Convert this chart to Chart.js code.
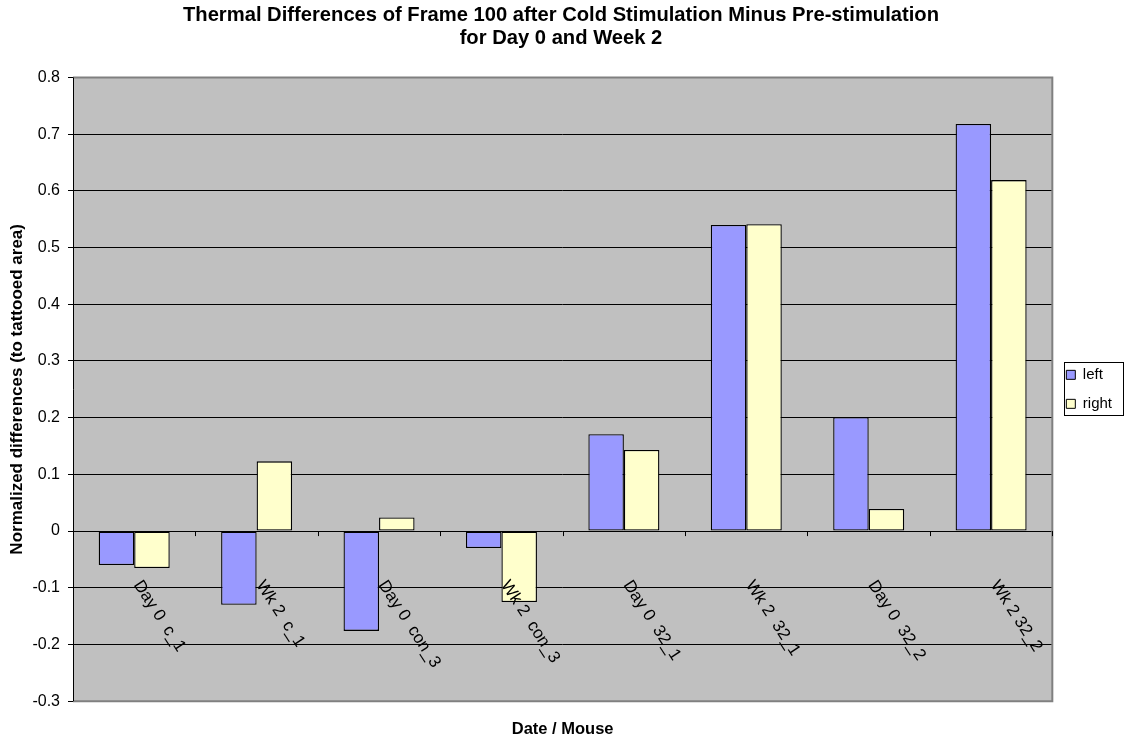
<!DOCTYPE html>
<html>
<head>
<meta charset="utf-8">
<script src="https://cdn.jsdelivr.net/npm/chart.js@4"></script>
<style>
  body { margin: 0; background: #fff; }
  #wrap { width: 1128px; height: 740px; position: relative; }
</style>
</head>
<body>
<div id="wrap"><canvas id="thermal-chart"></canvas></div>
<script>
const categories = ["Day 0  c_1", "Wk 2  c_1", "Day 0  con_3", "Wk 2  con_3", "Day 0  32_1", "Wk 2  32_1", "Day 0  32_2", "Wk 2 32_2"];
const leftValues = [-0.06, -0.13, -0.176, -0.03, 0.171, 0.54, 0.201, 0.718];
const rightValues = [-0.065, 0.123, 0.024, -0.125, 0.143, 0.541, 0.039, 0.619];
const yMin = -0.3;
const yMax = 0.8;
const yStep = 0.1;

const FONT = "'Liberation Sans', Arial, sans-serif";

// gray plot area, border, category ticks/labels and legend frame (Excel look)
const excelLook = {
  id: "excelLook",
  beforeDraw(chart) {
    const a = chart.chartArea, ctx = chart.ctx;
    ctx.save();
    ctx.fillStyle = "#C0C0C0";
    ctx.fillRect(a.left, a.top, a.right - a.left, a.bottom - a.top);
    ctx.restore();
  },
  afterDraw(chart) {
    const a = chart.chartArea, ctx = chart.ctx;
    const xs = chart.scales.x, ys = chart.scales.y;
    ctx.save();
    // border top / right / bottom
    ctx.strokeStyle = "#808080";
    ctx.lineWidth = 2;
    ctx.beginPath();
    ctx.moveTo(a.left, a.top);
    ctx.lineTo(a.right, a.top);
    ctx.lineTo(a.right, a.bottom);
    ctx.lineTo(a.left, a.bottom);
    ctx.stroke();
    // y axis line
    ctx.strokeStyle = "#000";
    ctx.lineWidth = 1;
    ctx.beginPath();
    ctx.moveTo(a.left + 0.5, a.top);
    ctx.lineTo(a.left + 0.5, a.bottom);
    ctx.stroke();
    // tick marks on the zero line between categories
    const zeroY = ys.getPixelForValue(0);
    const w = (a.right - a.left) / categories.length;
    ctx.beginPath();
    for (let i = 1; i <= categories.length; i++) {
      const x = Math.round(a.left + i * w) + 0.5;
      ctx.moveTo(x, zeroY);
      ctx.lineTo(x, zeroY + 5);
    }
    ctx.stroke();
    // rotated category labels
    ctx.fillStyle = "#000";
    ctx.font = "17px " + FONT;
    ctx.textAlign = "left";
    ctx.textBaseline = "middle";
    categories.forEach((c, i) => {
      const cx = xs.getPixelForValue(i);
      ctx.save();
      ctx.translate(cx + 3, zeroY + 51);
      ctx.rotate(57 * Math.PI / 180);
      ctx.fillText(c, 0, 0);
      ctx.restore();
    });
    // legend frame
    const lg = chart.legend;
    const boxes = lg.legendHitBoxes;
    if (boxes && boxes.length) {
      const first = boxes[0], last = boxes[boxes.length - 1];
      const l = Math.min(...boxes.map(h => h.left));
      const t = first.top + first.height / 2 - 13;
      const b = last.top + last.height / 2 + 11;
      ctx.strokeStyle = "#000";
      ctx.lineWidth = 1;
      ctx.strokeRect(Math.round(l - 2) + 0.5, Math.round(t) + 0.5, Math.round(lg.right + 1 - (l - 2)), Math.round(b - t));
    }
    ctx.restore();
  }
};

const config = {
  type: "bar",
  data: {
    labels: categories,
    datasets: [
      {
        label: "left",
        data: leftValues,
        backgroundColor: "#9999FF",
        borderColor: "#000",
        borderWidth: 1.3,
        borderSkipped: false,
      },
      {
        label: "right",
        data: rightValues,
        backgroundColor: "#FFFFCC",
        borderColor: "#000",
        borderWidth: 1.3,
        borderSkipped: false,
      },
    ],
  },
  options: {
    responsive: true,
    maintainAspectRatio: false,
    animation: false,
    layout: { padding: { top: 4, right: 6, bottom: 1, left: 0 } },
    datasets: { bar: { categoryPercentage: 0.58, barPercentage: 1.0 } },
    plugins: {
      title: {
        display: true,
        text: ["Thermal Differences of Frame 100 after Cold Stimulation Minus Pre-stimulation", "for Day 0 and Week 2"],
        color: "#000",
        font: { family: FONT, size: 20.2, weight: "bold", lineHeight: 1.15 },
        padding: { top: 0, bottom: 27 },
      },
      legend: {
        position: "right",
        fullSize: false,
        labels: {
          color: "#000",
          font: { family: FONT, size: 15 },
          boxWidth: 9,
          boxHeight: 9,
          padding: 14,
          generateLabels(chart) {
            return chart.data.datasets.map((d, i) => ({
              text: d.label,
              fillStyle: d.backgroundColor,
              strokeStyle: "#000",
              lineWidth: 1,
              datasetIndex: i,
              hidden: false,
            }));
          },
        },
      },
      tooltip: { enabled: false },
    },
    scales: {
      x: {
        grid: { display: false, drawTicks: false },
        border: { display: false },
        ticks: { display: false },
        title: {
          display: true,
          text: "Date / Mouse",
          color: "#000",
          font: { family: FONT, size: 16.5, weight: "bold" },
          padding: { top: 18, bottom: 0 },
        },
      },
      y: {
        min: yMin,
        max: yMax,
        afterFit(scale) { scale.width = 73; },
        ticks: {
          stepSize: yStep,
          color: "#000",
          font: { family: FONT, size: 16 },
          padding: 8,
          callback: v => (Math.abs(v) < 1e-9 ? "0" : Number(v).toFixed(1)),
        },
        grid: { color: "#000", lineWidth: 1, tickLength: 5, tickColor: "#000" },
        border: { display: false },
        title: {
          display: true,
          text: "Normalized differences (to tattooed area)",
          color: "#000",
          font: { family: FONT, size: 17, weight: "bold" },
          padding: { top: 7, bottom: 4 },
        },
      },
    },
  },
  plugins: [excelLook],
};

var ctx_thermal = document.getElementById("thermal-chart").getContext("2d");
var thermalChart = new Chart(ctx_thermal, config);
</script>
</body>
</html>
